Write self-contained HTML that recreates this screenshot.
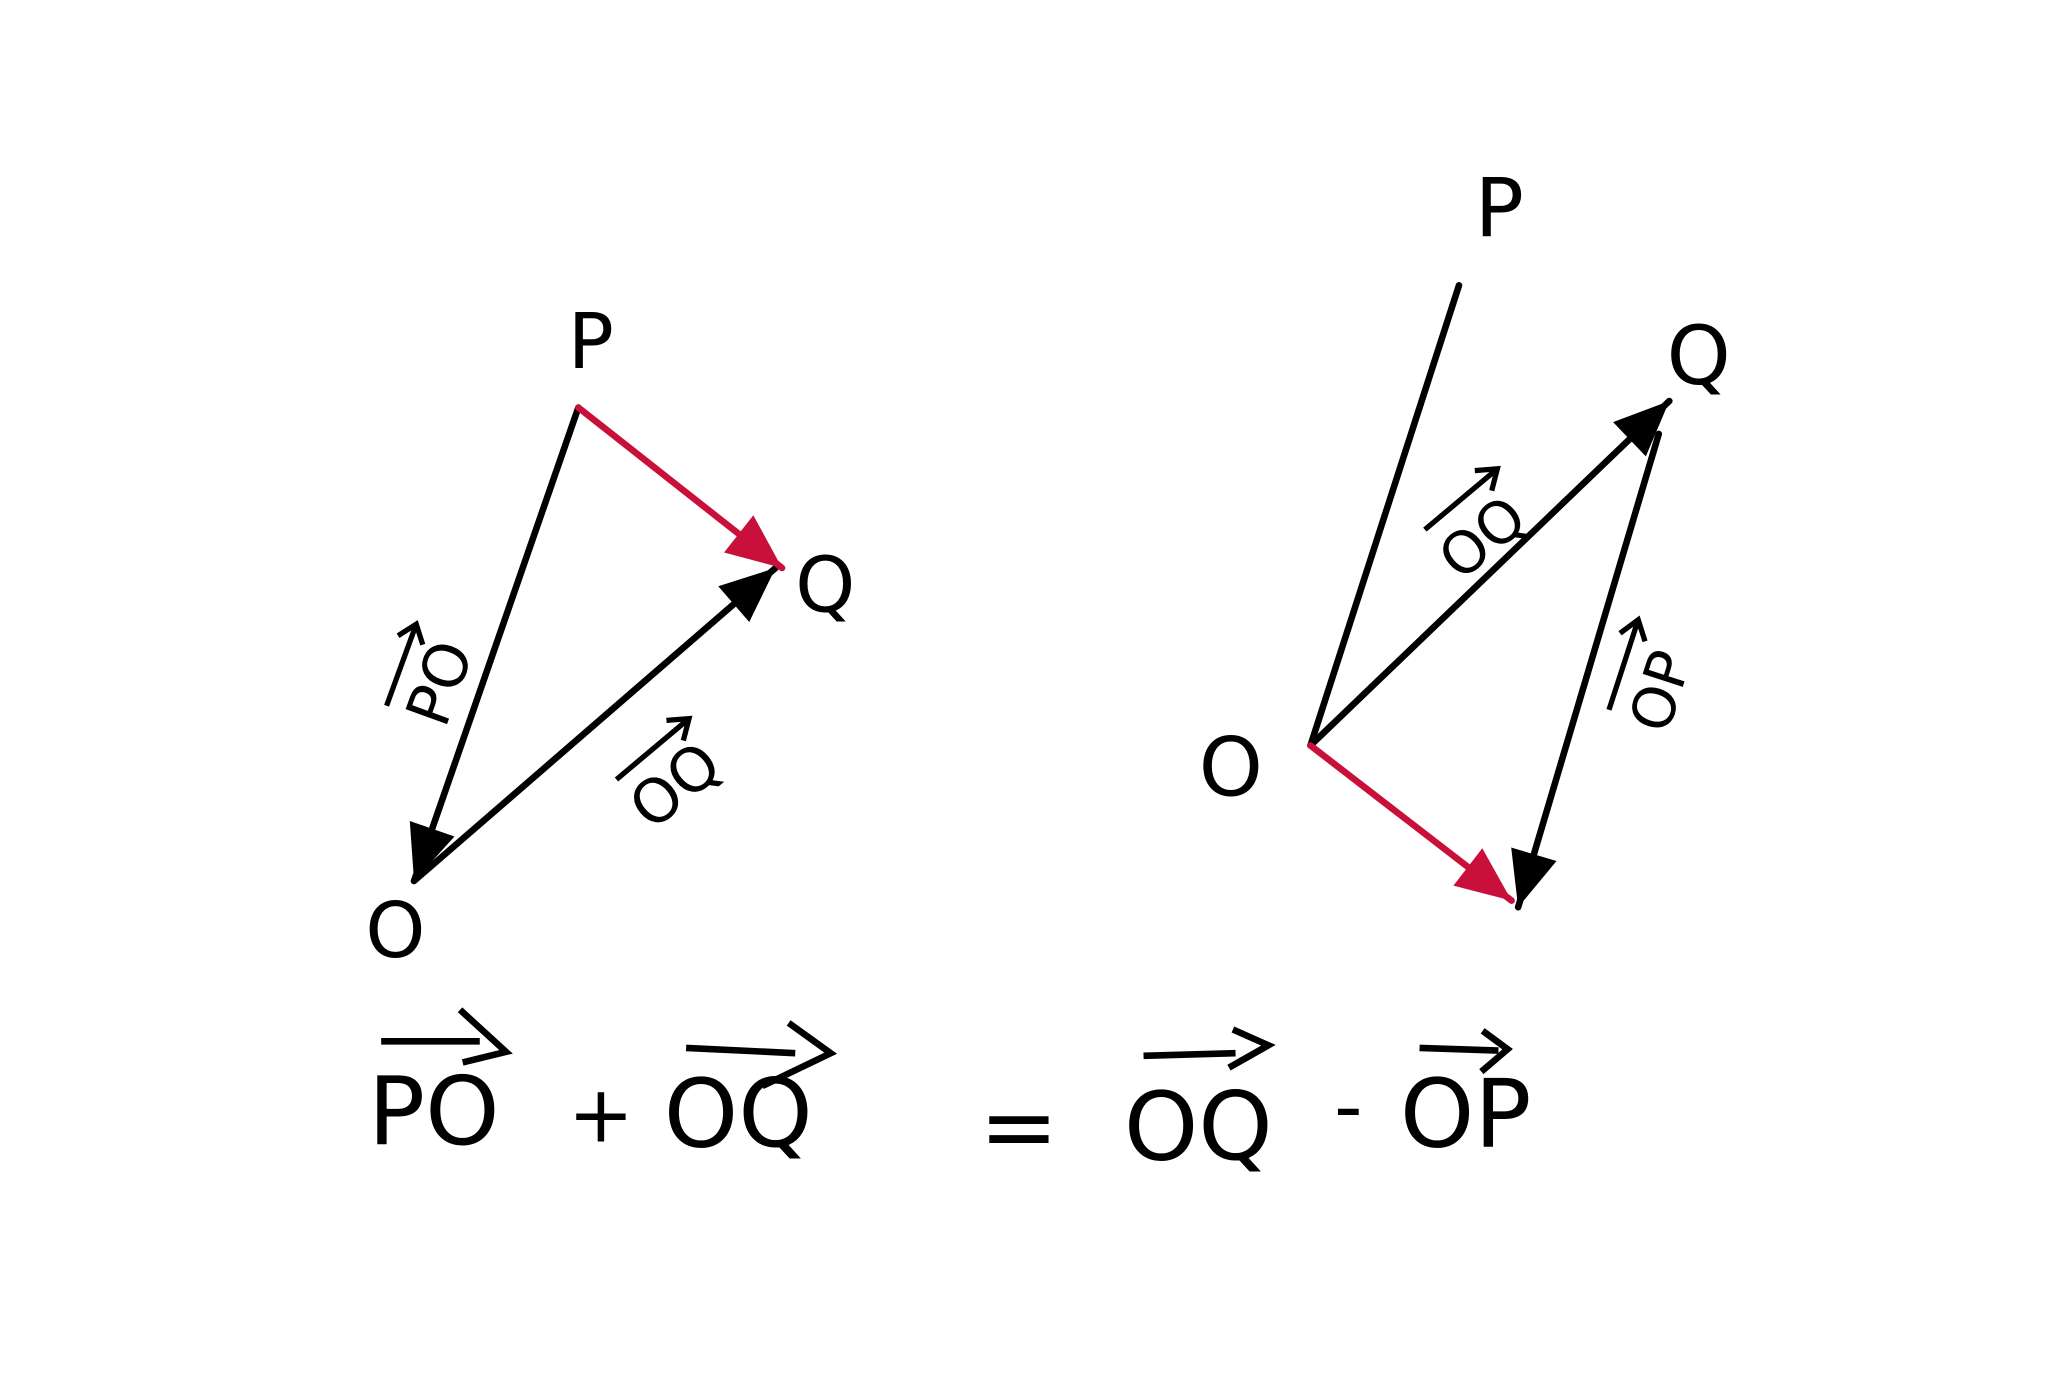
<!DOCTYPE html>
<html><head><meta charset="utf-8"><style>
html,body{margin:0;padding:0;background:#fff;}
svg{display:block;}
text{font-family:"DejaVu Sans","Liberation Sans",sans-serif;fill:#000;}
</style></head>
<body>
<svg id="fig" width="2061" height="1374" viewBox="0 0 1568 1045" preserveAspectRatio="none" xmlns="http://www.w3.org/2000/svg">
<rect width="1568" height="1045" fill="#fff"/>
<g id="lines"></g>
<g>
<text x="432" y="280" font-size="58">P</text>
<text x="605" y="465" font-size="58">Q</text>
<text x="278" y="728" font-size="58">O</text>
</g>
<g>
<text x="1122" y="180" font-size="62">P</text>
<text x="1268" y="292" font-size="62">Q</text>
<text x="912" y="605" font-size="62">O</text>
</g>
<g transform="translate(330,520) rotate(-70)">
<text x="-30" y="20" font-size="46">PO</text>
<path d="M-28,-28 L35,-28 M25,-38 L38,-28 L25,-18" stroke="#000" stroke-width="4" fill="none"/>
</g>
<g transform="translate(510,595) rotate(-40)">
<text x="-35" y="20" font-size="46">OQ</text>
<path d="M-30,-28 L40,-28 M28,-38 L42,-28 L28,-18" stroke="#000" stroke-width="4" fill="none"/>
</g>
<g transform="translate(1125,405) rotate(-40)">
<text x="-35" y="20" font-size="44">OQ</text>
<path d="M-30,-28 L40,-28 M28,-38 L42,-28 L28,-18" stroke="#000" stroke-width="4" fill="none"/>
</g>
<g transform="translate(1260,520) rotate(-72)">
<text x="-35" y="20" font-size="44">OP</text>
<path d="M-30,-28 L40,-28 M28,-38 L42,-28 L28,-18" stroke="#000" stroke-width="4" fill="none"/>
</g>
<g>
<text x="280" y="870" font-size="72">PO</text>
<path d="M290,792 L365,792 M350,768 L385,800 L352,808" stroke="#000" stroke-width="5" fill="none"/>
<text x="432" y="868" font-size="60">+</text>
<text x="505" y="872" font-size="72">OQ</text>
<path d="M522,797 L605,801 M600,778 L632,801 L580,826" stroke="#000" stroke-width="5" fill="none"/>
<text x="745" y="882" font-size="72">=</text>
<text x="855" y="882" font-size="72">OQ</text>
<path d="M870,803 L940,801 M938,783 L965,795 L935,812" stroke="#000" stroke-width="5" fill="none"/>
<text x="1015" y="862" font-size="60">-</text>
<text x="1065" y="872" font-size="72">OP</text>
<path d="M1080,797 L1140,799 M1128,784 L1147,798 L1127,815" stroke="#000" stroke-width="5" fill="none"/>
</g>
</svg>
<script>
// segments: [x1,y1,x2,y2]
const segmentNames = ['line-po-left','line-oq-left','line-pq-left-red','line-op-right','line-oq-right','line-qp-right','line-o-red-right'];
const segmentStarts = [[440,310],[315,670],[440,310],[997,567],[997,567],[1262,330],[997,567]];
const segmentEnds = [[315,670],[590,432],[595,432],[1110,217],[1270,305],[1155,690],[1150,685]];
const segmentColors = ['#000','#000','#c8103a','#000','#000','#000','#c8103a'];
const segmentArrows = [true,true,true,false,true,true,true];
const ns='http://www.w3.org/2000/svg';
const g=document.getElementById('lines');
for(let i=0;i<segmentNames.length;i++){
  const [x1,y1]=segmentStarts[i],[x2,y2]=segmentEnds[i];
  const l=document.createElementNS(ns,'line');
  l.setAttribute('x1',x1);l.setAttribute('y1',y1);l.setAttribute('x2',x2);l.setAttribute('y2',y2);
  l.setAttribute('stroke',segmentColors[i]);l.setAttribute('stroke-width',5);l.setAttribute('stroke-linecap','round');
  
  
  g.appendChild(l);
  if(segmentArrows[i]){
    const a=Math.atan2(y2-y1,x2-x1),L=42,W=18;
    const bx=x2-L*Math.cos(a),by=y2-L*Math.sin(a);
    const px=-Math.sin(a)*W,py=Math.cos(a)*W;
    const p=document.createElementNS(ns,'polygon');
    p.setAttribute('points',`${x2},${y2} ${bx+px},${by+py} ${bx-px},${by-py}`);
    p.setAttribute('fill',segmentColors[i]);
    
    
    g.appendChild(p);
  }
}
</script>
</body></html>
